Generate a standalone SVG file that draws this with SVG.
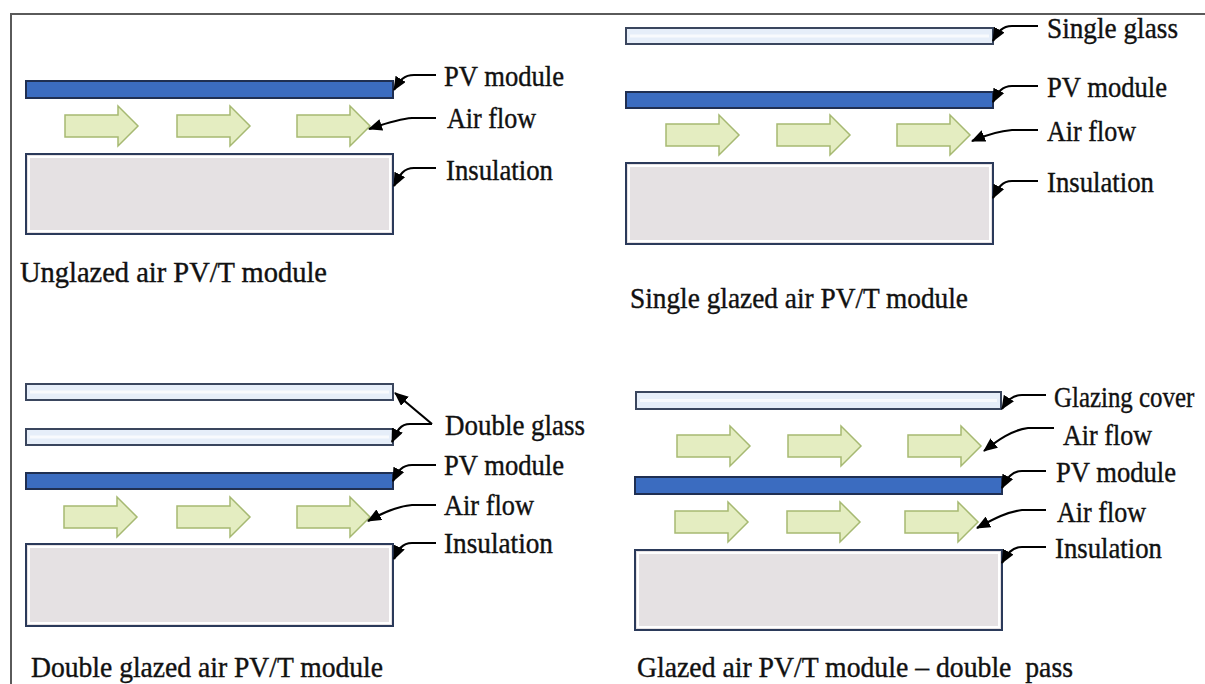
<svg xmlns="http://www.w3.org/2000/svg" xmlns:xlink="http://www.w3.org/1999/xlink" width="1205" height="684" viewBox="0 0 1205 684">
  <style>
    .frame { stroke: #5a5a5a; stroke-width: 2; fill: none; }
    .pv { fill: #3b6cc0; stroke: #1f2f52; stroke-width: 2; }
    .glass { fill: #e6eef9; stroke: #3a465e; stroke-width: 2; }
    .glass-hi { stroke: #ffffff; stroke-width: 3; fill: none; }
    .ins { fill: #e5e1e3; stroke: #2b3a5a; stroke-width: 2; }
    .ins-hi { fill: none; stroke: #ffffff; stroke-width: 2; }
    .flow { fill: #e4edc1; stroke: #a6b972; stroke-width: 1.5; }
    .lead { fill: none; stroke: #000; stroke-width: 2.2; marker-end: url(#tip); }
    .lbl { font-family: "Liberation Serif", "Times New Roman", serif; font-size: 30px; fill: #111; stroke: #111; stroke-width: 0.4; }
    .ttl { font-family: "Liberation Serif", "Times New Roman", serif; font-size: 30px; fill: #111; stroke: #111; stroke-width: 0.4; }
  </style>
  <defs>
    <marker id="tip" markerUnits="userSpaceOnUse" markerWidth="14" markerHeight="12" refX="13" refY="6" orient="auto">
      <path d="M0,0 L14,6 L0,12 Z" fill="#000"/>
    </marker>
    <path id="arrow" class="flow" d="M0,-11 H53 V-20 L73,0 L53,20 V11 H0 Z"/>
  </defs>

  <rect width="1205" height="684" fill="#ffffff"/>
  <path class="frame" d="M11,684 V14 H1205"/>

  <!-- Unglazed air PV/T module -->
  <g id="unglazed">
    <rect class="pv" x="26" y="81" width="367" height="17"/>
    <use xlink:href="#arrow" x="65" y="126"/>
    <use xlink:href="#arrow" x="177" y="126"/>
    <use xlink:href="#arrow" x="297" y="126"/>
    <rect class="ins" x="26" y="154" width="367" height="80"/>
    <rect class="ins-hi" x="29" y="157" width="361" height="74"/>
    <text class="lbl" x="444" y="86" textLength="120" lengthAdjust="spacingAndGlyphs">PV module</text>
    <text class="lbl" x="447" y="128" textLength="89" lengthAdjust="spacingAndGlyphs">Air flow</text>
    <text class="lbl" x="446" y="180" textLength="107" lengthAdjust="spacingAndGlyphs">Insulation</text>
    <text class="ttl" x="20" y="282" textLength="307" lengthAdjust="spacingAndGlyphs">Unglazed air PV/T module</text>
  </g>

  <!-- Single glazed air PV/T module -->
  <g id="single-glazed">
    <rect class="glass" x="626" y="28" width="367" height="16"/>
    <line class="glass-hi" x1="630" y1="36" x2="989" y2="36" stroke-opacity="0.7"/>
    <rect class="pv" x="626" y="92" width="367" height="16"/>
    <use xlink:href="#arrow" x="666" y="135"/>
    <use xlink:href="#arrow" x="777" y="135"/>
    <use xlink:href="#arrow" x="897" y="135"/>
    <rect class="ins" x="626" y="163" width="367" height="81"/>
    <rect class="ins-hi" x="629" y="166" width="361" height="75"/>
    <text class="lbl" x="1047" y="38" textLength="131" lengthAdjust="spacingAndGlyphs">Single glass</text>
    <text class="lbl" x="1047" y="97" textLength="120" lengthAdjust="spacingAndGlyphs">PV module</text>
    <text class="lbl" x="1047" y="141" textLength="89" lengthAdjust="spacingAndGlyphs">Air flow</text>
    <text class="lbl" x="1047" y="192" textLength="107" lengthAdjust="spacingAndGlyphs">Insulation</text>
    <text class="ttl" x="630" y="308" textLength="338" lengthAdjust="spacingAndGlyphs">Single glazed air PV/T module</text>
  </g>

  <!-- Double glazed air PV/T module -->
  <g id="double-glazed">
    <rect class="glass" x="26" y="384" width="367" height="16"/>
    <line class="glass-hi" x1="30" y1="392" x2="389" y2="392" stroke-opacity="0.7"/>
    <rect class="glass" x="26" y="429" width="367" height="16"/>
    <line class="glass-hi" x1="30" y1="437" x2="389" y2="437" stroke-opacity="0.7"/>
    <rect class="pv" x="26" y="473" width="367" height="16"/>
    <use xlink:href="#arrow" x="64" y="517"/>
    <use xlink:href="#arrow" x="177" y="517"/>
    <use xlink:href="#arrow" x="297" y="517"/>
    <rect class="ins" x="26" y="544" width="367" height="82"/>
    <rect class="ins-hi" x="29" y="547" width="361" height="76"/>
    <text class="lbl" x="445" y="435" textLength="140" lengthAdjust="spacingAndGlyphs">Double glass</text>
    <text class="lbl" x="444" y="475" textLength="120" lengthAdjust="spacingAndGlyphs">PV module</text>
    <text class="lbl" x="444" y="515" textLength="90" lengthAdjust="spacingAndGlyphs">Air flow</text>
    <text class="lbl" x="444" y="553" textLength="109" lengthAdjust="spacingAndGlyphs">Insulation</text>
    <text class="ttl" x="31" y="677" textLength="352" lengthAdjust="spacingAndGlyphs">Double glazed air PV/T module</text>
  </g>

  <!-- Glazed air PV/T module, double pass -->
  <g id="double-pass">
    <rect class="glass" x="636" y="392" width="365" height="17"/>
    <line class="glass-hi" x1="640" y1="400.5" x2="997" y2="400.5" stroke-opacity="0.7"/>
    <use xlink:href="#arrow" x="677" y="446"/>
    <use xlink:href="#arrow" x="788" y="446"/>
    <use xlink:href="#arrow" x="908" y="446"/>
    <rect class="pv" x="635" y="477" width="367" height="17"/>
    <use xlink:href="#arrow" x="675" y="522"/>
    <use xlink:href="#arrow" x="787" y="522"/>
    <use xlink:href="#arrow" x="905" y="522"/>
    <rect class="ins" x="635" y="550" width="367" height="80"/>
    <rect class="ins-hi" x="638" y="553" width="361" height="74"/>
    <text class="lbl" transform="translate(1054,407) scale(0.83,1)">Glazing cover</text>
    <text class="lbl" x="1063" y="445" textLength="89" lengthAdjust="spacingAndGlyphs">Air flow</text>
    <text class="lbl" x="1056" y="482" textLength="120" lengthAdjust="spacingAndGlyphs">PV module</text>
    <text class="lbl" x="1057" y="522" textLength="89" lengthAdjust="spacingAndGlyphs">Air flow</text>
    <text class="lbl" x="1055" y="558" textLength="107" lengthAdjust="spacingAndGlyphs">Insulation</text>
    <text class="ttl" x="637" y="677" textLength="436" lengthAdjust="spacingAndGlyphs" xml:space="preserve">Glazed air PV/T module – double  pass</text>
  </g>

  <!-- label leaders -->
  <g id="connectors">
    <path class="lead" d="M436,75 H414 C404,75 400,80 394,90"/>
    <path class="lead" d="M436,118 H412 C398,119 384,124 369,129"/>
    <path class="lead" d="M436,168 H414 C404,168 400,174 394,186"/>

    <path class="lead" d="M1038,26 H1012 C1002,26 998,32 993,41"/>
    <path class="lead" d="M1038,86 H1012 C1002,86 998,92 993,102"/>
    <path class="lead" d="M1038,130 H1012 C998,131 986,135 972,141"/>
    <path class="lead" d="M1038,181 H1012 C1002,181 998,188 993,198"/>

    <path class="lead" d="M432,424 L395,393"/>
    <path class="lead" d="M432,424 H410 C400,424 397,431 392,442"/>
    <path class="lead" d="M436,465 H412 C402,465 398,471 393,481"/>
    <path class="lead" d="M436,505 H412 C398,506 384,512 368,521"/>
    <path class="lead" d="M436,543 H412 C402,543 398,550 394,559"/>

    <path class="lead" d="M1046,395 H1022 C1012,395 1007,401 1002,409"/>
    <path class="lead" d="M1054,428 H1028 C1012,430 998,440 984,451"/>
    <path class="lead" d="M1046,471 H1022 C1012,471 1007,478 1002,488"/>
    <path class="lead" d="M1046,510 H1022 C1006,512 992,520 977,528"/>
    <path class="lead" d="M1046,547 H1022 C1012,547 1007,554 1002,563"/>
  </g>
</svg>
